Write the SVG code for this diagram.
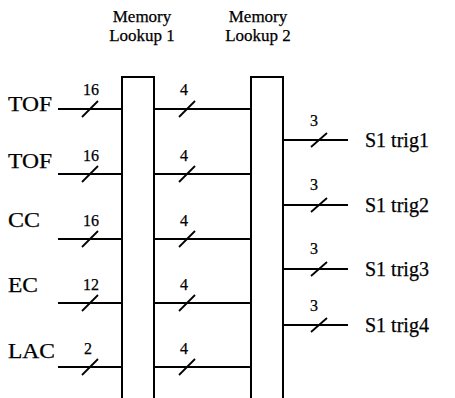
<svg xmlns="http://www.w3.org/2000/svg" width="455" height="398" viewBox="0 0 455 398">
<style>
text{font-family:'Liberation Serif','Times New Roman',Times,serif;fill:#000;stroke:#000;stroke-width:0.25}
.lbl{font-size:20px}
.num{font-size:16px;text-anchor:middle}
.hd{font-size:17px;text-anchor:middle}
.ln{stroke:#000;stroke-width:2;fill:none}
.sl{stroke:#000;stroke-width:1.8}
.box{fill:#fff;stroke:#000;stroke-width:2}
</style>
<rect width="455" height="398" fill="#fff"/>
<g id="connectors">
<line class="ln" x1="58" y1="109" x2="251" y2="109"/>
<line class="ln" x1="58" y1="174" x2="251" y2="174"/>
<line class="ln" x1="58" y1="239" x2="251" y2="239"/>
<line class="ln" x1="58" y1="303" x2="251" y2="303"/>
<line class="ln" x1="58" y1="367" x2="251" y2="367"/>
<line class="ln" x1="283" y1="140" x2="348" y2="140"/>
<line class="ln" x1="283" y1="205" x2="348" y2="205"/>
<line class="ln" x1="283" y1="269" x2="348" y2="269"/>
<line class="ln" x1="283" y1="325" x2="348" y2="325"/>
<g class="sl">
<line x1="82" y1="117" x2="98" y2="101"/>
<line x1="82" y1="182" x2="98" y2="166"/>
<line x1="82" y1="247" x2="98" y2="231"/>
<line x1="82" y1="311" x2="98" y2="295"/>
<line x1="82" y1="375" x2="98" y2="359"/>
<line x1="179" y1="117" x2="195" y2="101"/>
<line x1="179" y1="182" x2="195" y2="166"/>
<line x1="179" y1="247" x2="195" y2="231"/>
<line x1="179" y1="311" x2="195" y2="295"/>
<line x1="179" y1="375" x2="195" y2="359"/>
<line x1="311" y1="147" x2="327" y2="133"/>
<line x1="311" y1="212" x2="327" y2="198"/>
<line x1="311" y1="276" x2="327" y2="262"/>
<line x1="311" y1="332" x2="327" y2="318"/>
</g>
<g class="num">
<text x="91" y="95">16</text><text x="184" y="95">4</text>
<text x="91" y="161">16</text><text x="184" y="161">4</text>
<text x="91" y="226">16</text><text x="184" y="226">4</text>
<text x="91" y="290">12</text><text x="184" y="290">4</text>
<text x="88" y="354">2</text><text x="184" y="354">4</text>
<text x="314" y="126">3</text>
<text x="314" y="190">3</text>
<text x="314" y="254">3</text>
<text x="314" y="311">3</text>
</g>
</g>
<g id="lookup1">
<path class="box" d="M122,398 V77 H154 V398"/>
<text class="hd" x="142" y="22">Memory</text>
<text class="hd" x="142" y="41">Lookup 1</text>
</g>
<g id="lookup2">
<path class="box" d="M251,398 V77 H283 V398"/>
<text class="hd" x="258" y="22">Memory</text>
<text class="hd" x="258" y="41">Lookup 2</text>
</g>
<g id="in-tof1"><text class="lbl" x="8" y="111" textLength="44" lengthAdjust="spacingAndGlyphs">TOF</text></g>
<g id="in-tof2"><text class="lbl" x="8" y="168" textLength="44" lengthAdjust="spacingAndGlyphs">TOF</text></g>
<g id="in-cc"><text class="lbl" x="8" y="227" textLength="32" lengthAdjust="spacingAndGlyphs">CC</text></g>
<g id="in-ec"><text class="lbl" x="8" y="292" textLength="30" lengthAdjust="spacingAndGlyphs">EC</text></g>
<g id="in-lac"><text class="lbl" x="8" y="358" textLength="47" lengthAdjust="spacingAndGlyphs">LAC</text></g>
<g id="out1"><text class="lbl" x="365" y="147">S1 trig1</text></g>
<g id="out2"><text class="lbl" x="365" y="212">S1 trig2</text></g>
<g id="out3"><text class="lbl" x="365" y="276">S1 trig3</text></g>
<g id="out4"><text class="lbl" x="365" y="332">S1 trig4</text></g>
</svg>
